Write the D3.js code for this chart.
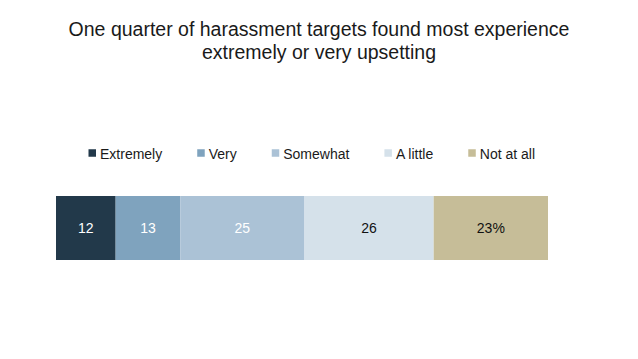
<!DOCTYPE html>
<html>
<head>
<meta charset="utf-8">
<script src="https://cdn.jsdelivr.net/npm/d3@7"></script>
<style>
  body { margin: 0; background: #ffffff; }
  svg { display: block; font-family: "Liberation Sans", Arial, sans-serif; }
</style>
</head>
<body>
<div id="chart"></div>
<script>
var categories = ["Extremely", "Very", "Somewhat", "A little", "Not at all"];
var values = [12, 13, 25, 26, 23];
var labels = ["12", "13", "25", "26", "23%"];
var colors = ["#22394a", "#7fa3be", "#abc2d6", "#d5e1ea", "#c6bd98"];
var labelColors = ["#ffffff", "#ffffff", "#ffffff", "#111111", "#111111"];
var titleLines = ["One quarter of harassment targets found most experience",
                  "extremely or very upsetting"];

var w = 638;
var h = 359;

var svg = d3.select("#chart").append("svg")
    .attr("width", w)
    .attr("height", h);

// title
svg.selectAll("text.title")
   .data(titleLines)
   .enter()
   .append("text")
   .attr("class", "title")
   .attr("x", 319)
   .attr("y", function(d, i) { return 36 + i * 22.5; })
   .attr("text-anchor", "middle")
   .attr("font-size", "19.5px")
   .attr("fill", "#1a1a1a")
   .text(function(d) { return d; });

// stacked data
var total = d3.sum(values);
var stack = [];
var acc = 0;
values.forEach(function(v, i) {
    stack.push({cat: categories[i], v: v, x0: acc, x1: acc + v, label: labels[i], i: i});
    acc += v;
});

var x = d3.scaleLinear().domain([0, total]).range([56, 548]);
var y = d3.scaleBand().domain(["all"]).range([196, 260]);

var segs = svg.selectAll("g.seg")
    .data(stack)
    .enter()
    .append("g")
    .attr("class", "seg");

segs.append("rect")
    .attr("x", function(d) { return x(d.x0); })
    .attr("y", y("all"))
    .attr("width", function(d) { return x(d.x1) - x(d.x0); })
    .attr("height", y.bandwidth())
    .attr("fill", function(d) { return colors[d.i]; });

segs.append("text")
    .attr("x", function(d) { return (x(d.x0) + x(d.x1)) / 2; })
    .attr("y", y("all") + y.bandwidth() / 2)
    .attr("dy", "0.36em")
    .attr("text-anchor", "middle")
    .attr("font-size", "14px")
    .attr("fill", function(d) { return labelColors[d.i]; })
    .text(function(d) { return d.label; });

// legend
var legend = svg.append("g").attr("transform", "translate(88.5,153)");
var lx = 0;
categories.forEach(function(c, i) {
    var item = legend.append("g").attr("transform", "translate(" + lx + ",0)");
    item.append("rect")
        .attr("x", 0)
        .attr("y", -3.75)
        .attr("width", 7.5)
        .attr("height", 7.5)
        .attr("fill", colors[i]);
    var t = item.append("text")
        .attr("x", 11.5)
        .attr("y", 5.5)
        .attr("font-size", "14px")
        .attr("fill", "#1a1a1a")
        .text(c);
    lx += 11.5 + t.node().getComputedTextLength() + 35;
});
</script>
</body>
</html>
